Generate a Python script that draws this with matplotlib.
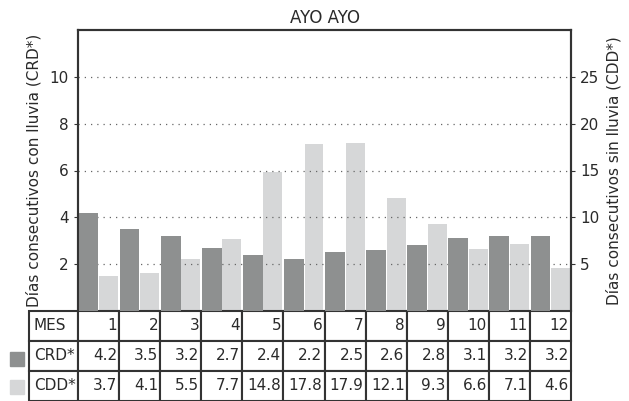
import matplotlib.pyplot as plt
import numpy as np
from matplotlib.patches import Rectangle

meses = ["1", "2", "3", "4", "5", "6", "7", "8", "9", "10", "11", "12"]
crd = [4.2, 3.5, 3.2, 2.7, 2.4, 2.2, 2.5, 2.6, 2.8, 3.1, 3.2, 3.2]
cdd = [3.7, 4.1, 5.5, 7.7, 14.8, 17.8, 17.9, 12.1, 9.3, 6.6, 7.1, 4.6]

c_crd = "#8e9090"
c_cdd = "#d6d7d8"
edge = "#333333"
txt = "#2a2a2a"
fs = 11

plt.rcParams['font.family'] = ['DejaVu Sans']
plt.rcParams['font.size'] = fs

fig = plt.figure(figsize=(6.29, 4.01), dpi=100)
ax = fig.add_axes([78/629, 1 - 311/401, (571-78)/629, (311-30)/401])
ax2 = ax.twinx()

x = np.arange(len(meses))
w = 0.48
ax.bar(x - w/2 - 0.005, crd, width=w, color=c_crd, zorder=2)
ax2.bar(x + w/2 + 0.005, cdd, width=w - 0.02, color=c_cdd, zorder=2)
ax.set_xlim(-0.5, 11.5)
ax.set_ylim(0, 12)
ax2.set_ylim(0, 30)
ax.set_yticks([2, 4, 6, 8, 10])
ax2.set_yticks([5, 10, 15, 20, 25])
ax.set_xticks([])
ax.yaxis.grid(True, linestyle=(0, (1, 4)), color="#666666", linewidth=0.9, zorder=0)
ax.set_axisbelow(True)
ax2.set_zorder(ax.get_zorder() - 1)
ax.patch.set_visible(False)

for a in (ax, ax2):
    for s in a.spines.values():
        s.set_color(edge)
        s.set_linewidth(1.5)
    a.tick_params(axis='y', length=3, color=edge, colors=txt, labelsize=fs)
ax.spines['bottom'].set_visible(False)
ax2.spines['bottom'].set_visible(False)

ax.set_ylabel("Días consecutivos con lluvia (CRD*)", fontsize=fs, color=txt, labelpad=6)
ax2.set_ylabel("Días consecutivos sin lluvia (CDD*)", fontsize=fs, color=txt, labelpad=5)
ax.set_title("AYO AYO", fontsize=12, color=txt, pad=5)

cells = [["MES"] + meses,
         ["CRD*"] + [f"{v}" for v in crd],
         ["CDD*"] + [f"{v}" for v in cdd]]
lab_w = 49 / 493
cw = [lab_w] + [1/12] * 12
tbl = ax.table(cellText=cells, colWidths=cw, cellLoc='right',
               bbox=[-lab_w, -90/281, 1 + lab_w, 90/281])
tbl.auto_set_font_size(False)
tbl.set_fontsize(fs)
for (r, c), cell in tbl.get_celld().items():
    cell.set_edgecolor(edge)
    cell.set_linewidth(1.5)
    cell.get_text().set_color(txt)
    cell.PAD = 0.05
    if c == 0:
        cell.get_text().set_ha('left')
        cell.PAD = 0.1

fig.add_artist(Rectangle((10/629, 1 - 366/401), 14/629, 14/401, transform=fig.transFigure, color=c_crd))
fig.add_artist(Rectangle((10/629, 1 - 394/401), 14/629, 14/401, transform=fig.transFigure, color=c_cdd))

fig.savefig("out.png", dpi=100)
